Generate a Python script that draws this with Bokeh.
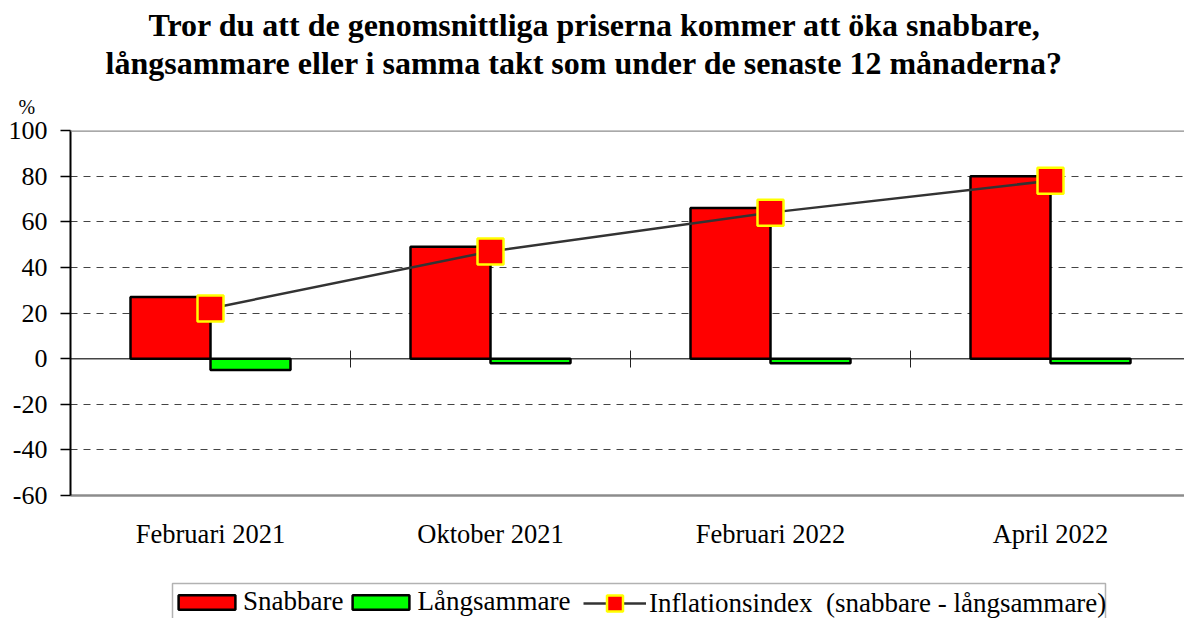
from bokeh.plotting import figure
from bokeh.layouts import column
from bokeh.models import (Range1d, FixedTicker, LinearAxis, Span, Title, Legend,
                          LegendItem, ColumnDataSource, BoxAnnotation)
from bokeh.embed import file_html
from bokeh.resources import INLINE

categories = ["Februari 2021", "Oktober 2021", "Februari 2022", "April 2022"]
snabbare = [27, 49, 66, 80]
langsammare = [-5, -2, -2, -2]
inflationsindex = [22, 47, 64, 78]
y_ticks = [-60, -40, -20, 0, 20, 40, 60, 80, 100]
grid_ticks = [-40, -20, 20, 40, 60, 80]
legend_labels = ["Snabbare", "Långsammare", "Inflationsindex  (snabbare - långsammare)"]

SERIF = "Liberation Serif"
BAR_W = 80 / 280
RED, GREEN, YELLOW, LINE = "#FF0000", "#00FF00", "#FFFF00", "#333333"

centers = [i + 0.5 for i in range(len(categories))]
src = ColumnDataSource(dict(
    center=centers,
    red_x=[c - BAR_W / 2 for c in centers],
    green_x=[c + BAR_W / 2 for c in centers],
    snabbare=snabbare,
    langsammare=langsammare,
    index=inflationsindex,
))

p = figure(width=1184, height=575, output_backend="svg", toolbar_location=None,
           x_range=Range1d(0, 1114 / 280), y_range=Range1d(-60, 100),
           min_border_left=70, min_border_right=0, min_border_top=130,
           min_border_bottom=80, outline_line_color=None)

# grid
p.xgrid.visible = False
p.ygrid.ticker = FixedTicker(ticks=grid_ticks)
p.ygrid.grid_line_color = "#444444"
p.ygrid.grid_line_dash = "7 6"
p.ygrid.grid_line_width = 1

# y axis
p.yaxis.ticker = FixedTicker(ticks=y_ticks)
p.yaxis.major_label_overrides = {t: str(t) for t in y_ticks}
p.yaxis.axis_line_color = "black"
p.yaxis.axis_line_width = 2
p.yaxis.major_tick_in = 0
p.yaxis.major_tick_out = 10
p.yaxis.major_tick_line_color = "black"
p.yaxis.major_tick_line_width = 1.5
p.yaxis.minor_tick_line_color = None
p.yaxis.major_label_text_font = SERIF
p.yaxis.major_label_text_font_size = "26px"
p.yaxis.major_label_text_color = "black"
p.yaxis.major_label_standoff = 13

# x axis (labels)
p.xaxis.ticker = FixedTicker(ticks=centers)
p.xaxis.major_label_overrides = {c: n for c, n in zip(centers, categories)}
p.xaxis.major_tick_line_color = None
p.xaxis.minor_tick_line_color = None
p.xaxis.axis_line_color = "#8c8c8c"
p.xaxis.axis_line_width = 2.5
p.xaxis.major_label_text_font = SERIF
p.xaxis.major_label_text_font_size = "26.5px"
p.xaxis.major_label_text_color = "black"
p.xaxis.major_label_standoff = 17

# zero line and top border
p.add_layout(Span(location=0, dimension="width", line_color="#444444",
                  line_width=1.5, level="underlay"))
p.add_layout(Span(location=100, dimension="width", line_color="#8c8c8c",
                  line_width=2.5))

# category separator ticks on the zero line
zero_axis = LinearAxis(fixed_location=0, ticker=FixedTicker(ticks=[1, 2, 3]),
                       major_tick_in=8, major_tick_out=9,
                       major_tick_line_color="#222222", major_tick_line_width=1,
                       minor_tick_line_color=None, axis_line_color=None,
                       major_label_overrides={1: "", 2: "", 3: ""},
                       major_label_text_font_size="1px", major_label_standoff=0)
p.add_layout(zero_axis, "below")

# bars, line, markers
p.vbar(x="red_x", width=BAR_W, top="snabbare", bottom=0, source=src,
       fill_color=RED, line_color="black", line_width=2.5)
p.vbar(x="green_x", width=BAR_W, top=0, bottom="langsammare", source=src,
       fill_color=GREEN, line_color="black", line_width=2.5)
p.line(x="center", y="index", source=src, line_color=LINE, line_width=2.5)
p.scatter(x="center", y="index", source=src, marker="square", size=26,
          fill_color=RED, line_color=YELLOW, line_width=2.5)

# titles (added bottom-up)
p.add_layout(Title(text="%", text_font=SERIF, text_font_size="20px",
                   text_font_style="normal", text_color="black", align="left",
                   offset=-52, standoff=26, text_line_height=0.7), "above")
p.add_layout(Title(text="långsammare eller i samma takt som under de senaste 12 månaderna?",
                   text_font=SERIF, text_font_size="32px", text_font_style="bold",
                   text_color="black", align="left", offset=35, standoff=0), "above")
p.add_layout(Title(text="Tror du att de genomsnittliga priserna kommer att öka snabbare,",
                   text_font=SERIF, text_font_size="32px", text_font_style="bold",
                   text_color="black", align="left", offset=78, standoff=0,
                   text_line_height=1.1), "above")

# ---- legend strip (separate small figure, frame aligned with the chart) ----
q = figure(width=1184, height=43, output_backend="svg", toolbar_location=None,
           x_range=Range1d(70, 1184), y_range=Range1d(43, 0),
           min_border_left=70, min_border_right=0, min_border_top=0,
           min_border_bottom=0, outline_line_color=None)
q.xaxis.visible = False
q.yaxis.visible = False
q.grid.visible = False
q.add_layout(BoxAnnotation(left=172, right=1105, top=8, bottom=80,
                           fill_color=None, line_color="black", line_width=1.5))

# hidden proxy renderers (same data) that only provide the legend glyphs
g_red = q.vbar(x="red_x", top="snabbare", width=BAR_W, source=src, fill_color=RED,
               line_color="black", line_width=2.5, visible=False)
g_green = q.vbar(x="green_x", top="langsammare", width=BAR_W, source=src,
                 fill_color=GREEN, line_color="black", line_width=2.5, visible=False)
g_line = q.line(x="center", y="index", source=src, line_color=LINE, line_width=2.5,
                visible=False)
g_mark = q.scatter(x="center", y="index", source=src, marker="square", size=10,
                   fill_color=RED, line_color=YELLOW, line_width=2.5, visible=False)

common = dict(orientation="horizontal", label_text_font=SERIF,
              label_text_font_size="27px", label_text_color="black",
              padding=0, margin=0, border_line_color=None,
              background_fill_alpha=0, inactive_fill_alpha=0)
leg_a = Legend(items=[LegendItem(label=legend_labels[0], renderers=[g_red]),
                      LegendItem(label=legend_labels[1], renderers=[g_green])],
               location=(101, 1), glyph_width=71, glyph_height=18, label_height=18,
               label_text_line_height=0.6, label_standoff=1, spacing=2, **common)
leg_b = Legend(items=[LegendItem(label=legend_labels[2], renderers=[g_line, g_mark])],
               location=(513, -5), glyph_width=63, glyph_height=40,
               label_standoff=3, spacing=0, **common)
q.add_layout(leg_a)
q.add_layout(leg_b)

open("out.html", "w").write(file_html(column(p, q, spacing=0), INLINE))
